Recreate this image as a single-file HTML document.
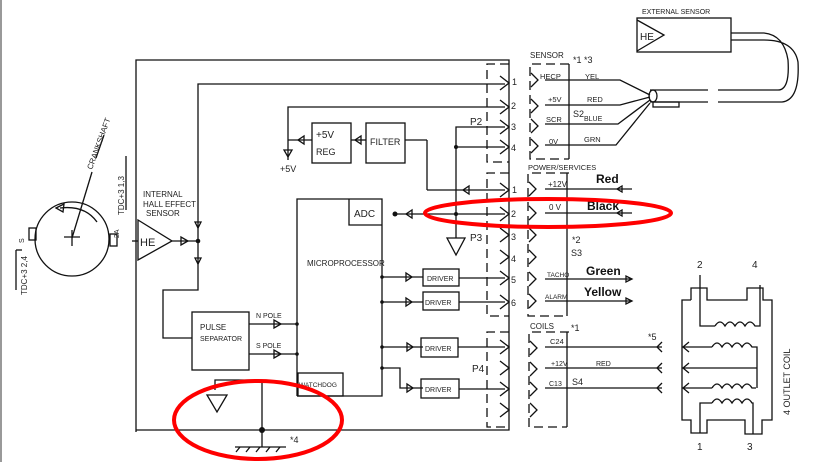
<!DOCTYPE html>
<html><head><meta charset="utf-8"><style>
html,body{margin:0;padding:0;background:#fff}
svg{display:block}
text{font-family:"Liberation Sans",sans-serif;fill:#222}
.s{font-size:8px}
.b{font-size:12px;font-weight:bold;fill:#111}
</style></head><body>
<svg width="818" height="462" viewBox="0 0 818 462" xmlns="http://www.w3.org/2000/svg">
<rect x="0" y="0" width="818" height="462" fill="#fff"/>
<line x1="1" y1="0" x2="1" y2="462" stroke="#999" stroke-width="2"/>
<g fill="none" stroke="#111" stroke-width="1.3">
<polyline points="136,432 136,60 509,60 509,430 136,430"/>
<polyline points="198,240 198,84 505,84"/>
<polyline points="288,140 288,107 505,107"/>
<line x1="405" y1="140" x2="427" y2="140"/><line x1="427" y1="140" x2="427" y2="190"/>
<line x1="427" y1="190" x2="505" y2="190"/>
<rect x="312" y="123" width="39" height="40"/>
<rect x="366" y="123" width="39" height="40"/>
<line x1="351" y1="140" x2="366" y2="140"/>
<line x1="288" y1="140" x2="312" y2="140"/>
<line x1="288" y1="140" x2="288" y2="160"/>
<polygon points="284,150 292,150 288,157"/>
<polygon points="304,136 304,144 298,140"/>
<polygon points="361,136 361,144 355,140"/>
<polyline points="456,238 456,127 505,127"/>
<line x1="456" y1="147" x2="505" y2="147"/>
<line x1="395" y1="214" x2="505" y2="214"/>
<polygon points="447,238 465,238 456,255"/>
<polygon points="138,220 138,260 172,241"/>
<line x1="172" y1="241" x2="198" y2="241"/>
<polyline points="198,241 198,290 163,290 163,338 192,338"/>
<polygon points="181,237 181,245 188,241"/>
<polygon points="195,222 201,222 198,228"/>
<polygon points="195,258 201,258 198,264"/>
<line x1="132" y1="241" x2="138" y2="241"/>
<rect x="192" y="312" width="57" height="58"/>
<line x1="249" y1="324" x2="297" y2="324"/>
<line x1="249" y1="354" x2="297" y2="354"/>
<polygon points="274,320 274,328 281,324"/>
<polygon points="274,350 274,358 281,354"/>
<polyline points="297,396 297,199 382,199 382,396 297,396"/>
<polyline points="349,199 349,225 382,225"/>
<rect x="298" y="373" width="45" height="23"/>
<line x1="382" y1="277" x2="423" y2="277"/>
<line x1="382" y1="302" x2="423" y2="302"/>
<line x1="382" y1="347" x2="423" y2="347"/>
<polyline points="382,368 400,368 400,388 423,388"/>
<rect x="423" y="269" width="36" height="17"/>
<rect x="423" y="292" width="36" height="18"/>
<rect x="421" y="338" width="37" height="19"/>
<rect x="421" y="379" width="38" height="19"/>
<line x1="459" y1="278" x2="505" y2="278"/>
<line x1="459" y1="302" x2="505" y2="302"/>
<line x1="458" y1="347" x2="505" y2="347"/>
<line x1="459" y1="389" x2="505" y2="389"/>
<polygon points="406,273 406,281 412,277"/>
<polygon points="406,298 406,306 412,302"/>
<polygon points="407,343 407,351 413,347"/>
<polygon points="407,384 407,392 413,388"/>
<polygon points="469,186 469,194 463,190"/>
<polygon points="412,210 412,218 406,214"/>
<polyline points="215,390 215,380 262,380 262,430"/>
<polygon points="207,395 227,395 217,412"/>
<line x1="262" y1="430" x2="262" y2="447"/>
<line x1="235" y1="447" x2="286" y2="447"/>
<path d="M240,447 l-4,5 M250,447 l-4,5 M260,447 l-4,5 M270,447 l-4,5 M280,447 l-4,5"/>
<g stroke-dasharray="9,5">
<polyline points="509,64 487,64 487,162 509,162"/>
<polyline points="509,173 487,173 487,316 509,316"/>
<polyline points="509,332 487,332 487,427 509,427"/>
<polyline points="569,64 530,64 530,159 569,159"/>
<polyline points="569,173 528,173 528,316 567,316"/>
<polyline points="569,332 529,332 529,427 567,427"/>
</g>
<path d="M500,76 l9,7 l-9,7 M500,100 l9,7 l-9,7 M500,120 l9,7 l-9,7 M500,140 l9,7 l-9,7
M500,183 l9,7 l-9,7 M500,207 l9,7 l-9,7 M500,228 l9,7 l-9,7 M500,250 l9,7 l-9,7 M500,271 l9,7 l-9,7 M500,295 l9,7 l-9,7
M500,340 l9,7 l-9,7 M500,361 l9,7 l-9,7 M500,382 l9,7 l-9,7 M500,403 l9,7 l-9,7"/>
<path d="M531,73 l7,7 l-7,7 M531,99 l7,7 l-7,7 M531,119 l7,7 l-7,7 M531,139 l7,7 l-7,7
M529,182 l7,7 l-7,7 M529,206 l7,7 l-7,7 M529,228 l7,7 l-7,7 M529,250 l7,7 l-7,7 M529,272 l7,7 l-7,7 M529,294 l7,7 l-7,7
M530,341 l7,7 l-7,7 M530,362 l7,7 l-7,7 M530,382 l7,7 l-7,7 M530,403 l7,7 l-7,7"/>
<line x1="569" y1="64" x2="569" y2="159"/>
<line x1="567" y1="173" x2="567" y2="316"/>
<line x1="567" y1="332" x2="567" y2="427"/>
<polyline points="545,80 620,80 650,95"/>
<polyline points="545,105 620,105 650,97"/>
<polyline points="545,124 618,124 650,100"/>
<polyline points="545,145 616,145 650,103"/>
<line x1="545" y1="189" x2="632" y2="189"/><polygon points="622,186 622,192 617,189"/>
<line x1="545" y1="213" x2="632" y2="213"/><polygon points="622,210 622,216 617,213"/>
<line x1="545" y1="279" x2="632" y2="279"/><polygon points="626,276 626,282 632,279"/>
<line x1="545" y1="301" x2="632" y2="301"/><polygon points="626,298 626,304 632,301"/>
<line x1="545" y1="347" x2="662" y2="347"/><path d="M662,342 l-5,5 l5,5"/>
<line x1="545" y1="368" x2="662" y2="368"/><path d="M662,363 l-5,5 l5,5"/>
<line x1="545" y1="388" x2="662" y2="388"/><path d="M662,383 l-5,5 l5,5"/>
<path d="M650,90 L708,90 M650,102 L708,102 M718,90 L778,90 Q790,90 788,60 Q784,35 764,33 L731,33 M718,102 L782,102 Q800,100 798,62 Q794,40 764,40 L731,40"/>
<ellipse cx="653" cy="96" rx="4" ry="6"/>
<rect x="653" y="102" width="26" height="5"/>
<rect x="637" y="18" width="94" height="34"/>
<polyline points="637,20 664,35 637,51"/>
<polyline points="691,300 682,300 682,420 691,420 691,433 707,433 707,420 745,420 745,434 762,434 762,420 772,420 772,300 763,300 763,288 747,288 747,300 707,300 707,288 691,288 691,300"/>
<polyline points="700,275 700,326 715,326"/>
<path d="M715,326 q5,-8 10,0 q5,-8 10,0 q5,-8 10,0 q5,-8 10,0 L760,326 L760,285"/>
<line x1="682" y1="347" x2="712" y2="347"/>
<path d="M712,347 q5,-8 10,0 q5,-8 10,0 q5,-8 10,0 q5,-8 10,0 L757,347 L757,388"/>
<line x1="682" y1="368" x2="757" y2="368"/>
<line x1="682" y1="388" x2="712" y2="388"/>
<path d="M712,388 q5,-8 10,0 q5,-8 10,0 q5,-8 10,0 q5,-8 10,0 L756,388"/>
<polyline points="700,433 700,403 712,403"/>
<path d="M712,403 q5,-8 10,0 q5,-8 10,0 q5,-8 10,0 q5,-8 10,0 L753,403 L753,434"/>
<path d="M689,342 l-6,5 l6,5 M689,363 l-6,5 l6,5 M689,383 l-6,5 l6,5"/>
<circle cx="72" cy="239" r="37"/>
<rect x="29" y="228" width="7" height="12"/>
<rect x="110" y="234" width="7" height="12"/>
<path d="M64,237 h16 M72,230 v16"/>
<line x1="72" y1="238" x2="92" y2="172"/>
<path d="M60,208 Q85,205 97,222"/>
<polygon points="56,208 64,204 63,212"/>
<line x1="16" y1="250" x2="16" y2="290"/>
<line x1="16" y1="250" x2="22" y2="250"/>
<line x1="126" y1="156" x2="126" y2="210"/>
<line x1="96" y1="158" x2="104" y2="135"/>
</g>
<g fill="#111">
<circle cx="198" cy="241" r="2.3"/><circle cx="262" cy="430" r="3"/>
<circle cx="456" cy="147" r="2"/><circle cx="456" cy="214" r="2"/><circle cx="395" cy="214" r="2.5"/>
<circle cx="297" cy="324" r="1.8"/><circle cx="297" cy="354" r="1.8"/>
<circle cx="382" cy="277" r="1.8"/><circle cx="382" cy="302" r="1.8"/><circle cx="382" cy="347" r="1.8"/><circle cx="382" cy="368" r="1.8"/>
</g>
<text class="s" x="143" y="197">INTERNAL</text>
<text class="s" x="143" y="207">HALL EFFECT</text>
<text class="s" x="146" y="216">SENSOR</text>
<text x="140" y="246" style="font-size:11px">HE</text>
<text x="316" y="138" style="font-size:10px">+5V</text>
<text x="316" y="155" style="font-size:9px">REG</text>
<text x="370" y="145" style="font-size:9px">FILTER</text>
<text x="280" y="172" style="font-size:9px">+5V</text>
<text x="354" y="217" style="font-size:10px">ADC</text>
<text x="307" y="266" class="s">MICROPROCESSOR</text>
<text x="200" y="330" class="s">PULSE</text>
<text x="200" y="341" style="font-size:7px">SEPARATOR</text>
<text x="256" y="318" style="font-size:7px">N POLE</text>
<text x="256" y="348" style="font-size:7px">S POLE</text>
<text x="299" y="387" style="font-size:6.5px">WATCHDOG</text>
<text x="427" y="281" style="font-size:7px">DRIVER</text>
<text x="425" y="305" style="font-size:7px">DRIVER</text>
<text x="425" y="351" style="font-size:7px">DRIVER</text>
<text x="425" y="392" style="font-size:7px">DRIVER</text>
<text x="290" y="443" style="font-size:9px">*4</text>
<text x="470" y="125" style="font-size:10px">P2</text>
<text x="470" y="241" style="font-size:10px">P3</text>
<text x="472" y="372" style="font-size:10px">P4</text>
<g style="font-size:9px">
<text x="512" y="85">1</text><text x="511" y="109">2</text><text x="511" y="130">3</text><text x="511" y="151">4</text>
<text x="512" y="193">1</text><text x="511" y="217">2</text><text x="511" y="240">3</text><text x="511" y="262">4</text><text x="511" y="283">5</text><text x="511" y="306">6</text>
</g>
<text x="530" y="58" class="s">SENSOR</text>
<text x="573" y="63" style="font-size:9px">*1 *3</text>
<text x="540" y="79" style="font-size:7.5px">HECP</text>
<text x="548" y="102" style="font-size:7.5px">+5V</text>
<text x="546" y="122" style="font-size:7.5px">SCR</text>
<text x="549" y="144" style="font-size:7.5px">0V</text>
<text x="585" y="79" style="font-size:7.5px">YEL</text>
<text x="587" y="102" style="font-size:7.5px">RED</text>
<text x="584" y="121" style="font-size:7px">BLUE</text>
<text x="584" y="142" style="font-size:7.5px">GRN</text>
<text x="573" y="117" style="font-size:9px">S2</text>
<text x="528" y="170" style="font-size:7.5px">POWER/SERVICES</text>
<text x="548" y="187" style="font-size:8px">+12V</text>
<text x="549" y="210" style="font-size:8px">0 V</text>
<text class="b" x="596" y="183">Red</text>
<text class="b" x="587" y="210">Black</text>
<text x="572" y="243" style="font-size:9px">*2</text>
<text x="571" y="256" style="font-size:9px">S3</text>
<text x="547" y="277" style="font-size:6.5px">TACHO</text>
<text x="545" y="299" style="font-size:6.5px">ALARM</text>
<text class="b" x="586" y="275">Green</text>
<text class="b" x="584" y="296">Yellow</text>
<text x="530" y="329" class="s">COILS</text>
<text x="571" y="331" style="font-size:9px">*1</text>
<text x="550" y="344" style="font-size:7.5px">C24</text>
<text x="551" y="366" style="font-size:7px">+12V</text>
<text x="596" y="366" style="font-size:7px">RED</text>
<text x="549" y="386" style="font-size:7px">C13</text>
<text x="572" y="385" style="font-size:9px">S4</text>
<text x="648" y="340" style="font-size:9px">*5</text>
<text x="642" y="14" style="font-size:7px">EXTERNAL SENSOR</text>
<text x="640" y="40" style="font-size:10px">HE</text>
<text x="697" y="268" style="font-size:10px">2</text>
<text x="752" y="268" style="font-size:10px">4</text>
<text x="697" y="450" style="font-size:10px">1</text>
<text x="747" y="450" style="font-size:10px">3</text>
<text transform="translate(790,415) rotate(-90)" style="font-size:9px">4 OUTLET COIL</text>
<text transform="translate(92,170) rotate(-70)" style="font-size:8px">CRANKSHAFT</text>
<text transform="translate(124,215) rotate(-90)" style="font-size:8px">TDC+3 1,3</text>
<text transform="translate(27,295) rotate(-90)" style="font-size:8px">TDC+3 2,4</text>
<text transform="translate(119,238) rotate(-90)" style="font-size:7px">2A</text>
<text transform="translate(24,243) rotate(-90)" style="font-size:7px">S</text>
<ellipse cx="548" cy="213" rx="123" ry="14" fill="none" stroke="#f00" stroke-width="4"/>
<ellipse cx="258" cy="420" rx="84" ry="39" fill="none" stroke="#f00" stroke-width="4"/>
</svg>
</body></html>
